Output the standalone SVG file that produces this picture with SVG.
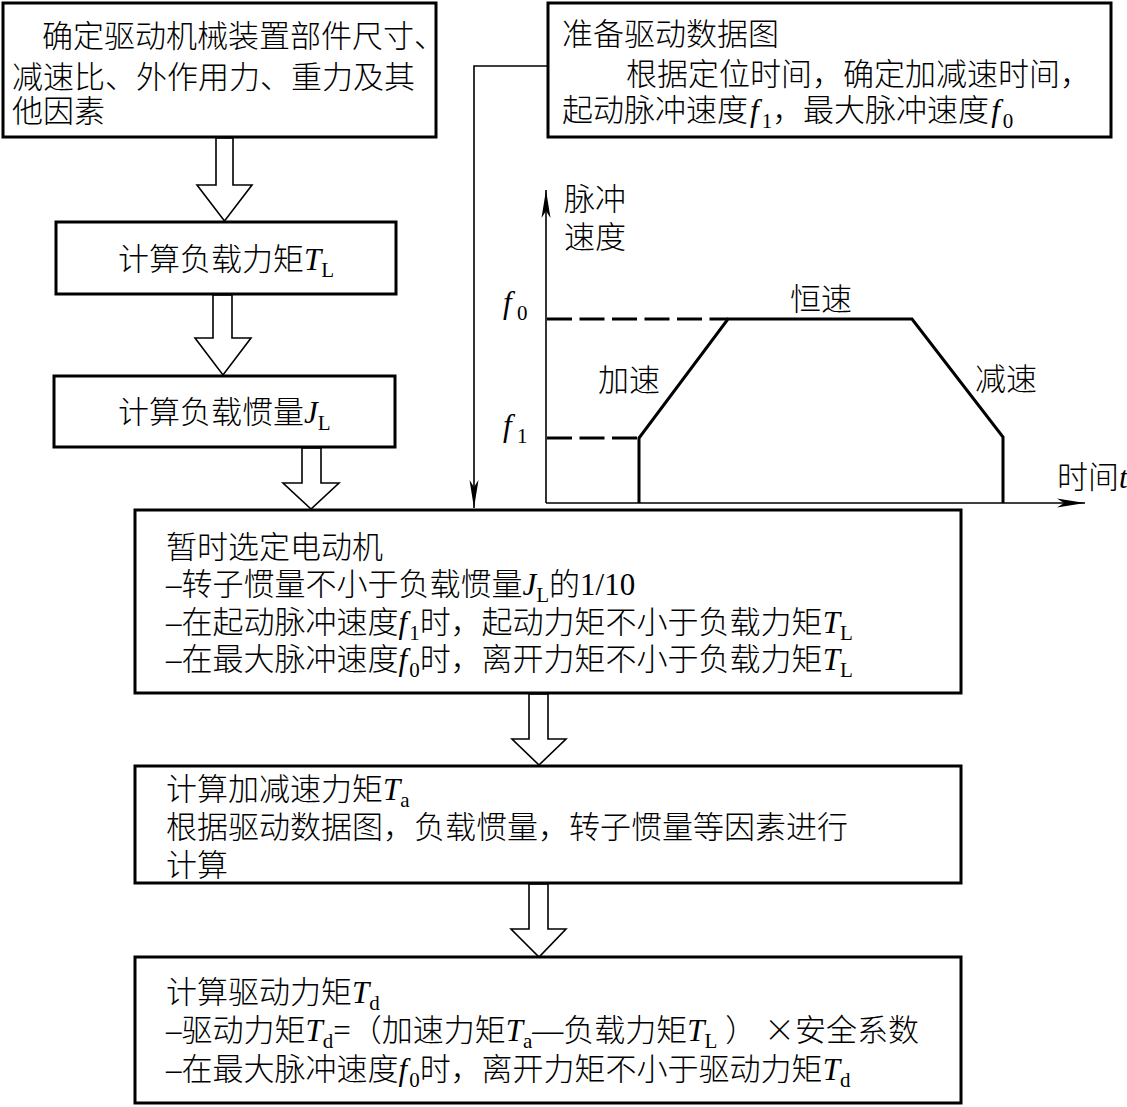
<svg xmlns="http://www.w3.org/2000/svg" width="1127" height="1107" viewBox="0 0 1127 1107">
<style>
.box{fill:#fff;stroke:#000;stroke-width:3}
.ha{fill:#fff;stroke:#000;stroke-width:1.6;stroke-linejoin:miter}
.ln{fill:none;stroke:#000;stroke-width:1.6}
.tk{fill:none;stroke:#000;stroke-width:3;stroke-linejoin:miter}
.ds{fill:none;stroke:#000;stroke-width:3;stroke-dasharray:25 7.5}
.t{font-family:"Liberation Serif","Noto Sans CJK SC",serif;font-size:31px;font-weight:300;fill:#000}
.i{font-style:italic;font-weight:normal}
.s{font-size:21px;font-style:normal;font-weight:normal}
.c{font-family:"Noto Sans CJK SC",sans-serif}
</style>
<defs>
<marker id="ah" markerUnits="userSpaceOnUse" markerWidth="30" markerHeight="10" viewBox="0 0 30 10" refX="28" refY="5" orient="auto">
<path d="M0,0.5 L28,5 L0,9.5 L7,5 Z" fill="#000"/>
</marker>
</defs>
<rect width="1127" height="1107" fill="#fff"/>

<g id="connectors">
<polygon class="ha" points="216,138 216,185 197,185 224.5,221 252,185 233,185 233,138"/>
<polygon class="ha" points="213,295 213,338 195,338 223,375 251,338 232,338 232,295"/>
<polygon class="ha" points="302,448 302,483 283,483 311,509 339,483 321,483 321,448"/>
<polygon class="ha" points="529,694 529,739 512,739 539,765 566,739 548,739 548,694"/>
<polygon class="ha" points="529,884 529,929 511,929 539,957 566,929 548,929 548,884"/>
<polyline class="ln" points="548,66 474,66 474,508" marker-end="url(#ah)"/>
</g>

<g id="n1">
<rect class="box" x="3" y="3" width="433" height="134"/>
<text class="t" x="42" y="47">确定驱动机械装置部件尺寸、</text>
<text class="t" x="12" y="88">减速比、外作用力、重力及其</text>
<text class="t" x="12" y="122">他因素</text>
</g>

<g id="n2">
<rect class="box" x="548" y="3" width="563" height="134"/>
<text class="t" x="562" y="45">准备驱动数据图</text>
<text class="t" x="626" y="85">根据定位时间，确定加减速时间，</text>
<text class="t" x="562" y="121">起动脉冲速度<tspan class="i" dx="2">f</tspan><tspan class="s" dx="3" dy="7">1</tspan><tspan dy="-7">，最大脉冲速度</tspan><tspan class="i" dx="2">f</tspan><tspan class="s" dx="3" dy="7">0</tspan></text>
</g>

<g id="n3">
<rect class="box" x="56" y="222" width="340" height="72"/>
<text class="t" x="118" y="270">计算负载力矩<tspan class="i">T</tspan><tspan class="s" dy="7">L</tspan></text>
</g>

<g id="n4">
<rect class="box" x="54" y="376" width="341" height="71"/>
<text class="t" x="118" y="423">计算负载惯量<tspan class="i">J</tspan><tspan class="s" dy="7">L</tspan></text>
</g>

<g id="chart">
<line class="ln" x1="546" y1="503" x2="546" y2="190" marker-end="url(#ah)"/>
<line class="ln" x1="546" y1="503" x2="1085" y2="503" marker-end="url(#ah)"/>
<line class="ds" x1="547" y1="319" x2="728" y2="319"/>
<line class="ds" x1="547" y1="438" x2="639" y2="438"/>
<polyline class="tk" points="639,503 639,438 728,319 912,319 1003,437 1003,503"/>
<text class="t" x="564" y="210">脉冲</text>
<text class="t" x="564" y="248">速度</text>
<text class="t" x="503" y="313" font-size="33"><tspan class="i">f</tspan><tspan class="s" x="517" dy="7">0</tspan></text>
<text class="t" x="503" y="436" font-size="33"><tspan class="i">f</tspan><tspan class="s" x="517" dy="7">1</tspan></text>
<text class="t" x="790" y="310">恒速</text>
<text class="t" x="598" y="391">加速</text>
<text class="t" x="975" y="390">减速</text>
<text class="t" x="1057" y="488">时间<tspan class="i">t</tspan></text>
</g>

<g id="n5">
<rect class="box" x="135" y="510" width="826" height="183"/>
<text class="t" x="166" y="558">暂时选定电动机</text>
<text class="t" x="166" y="595">–转子惯量不小于负载惯量<tspan class="i">J</tspan><tspan class="s" dy="7">L</tspan><tspan dy="-7">的1/10</tspan></text>
<text class="t" x="166" y="633">–在起动脉冲速度<tspan class="i">f</tspan><tspan class="s" dx="2" dy="7">1</tspan><tspan dy="-7">时，起动力矩不小于负载力矩</tspan><tspan class="i">T</tspan><tspan class="s" dy="7">L</tspan></text>
<text class="t" x="166" y="670">–在最大脉冲速度<tspan class="i">f</tspan><tspan class="s" dx="2" dy="7">0</tspan><tspan dy="-7">时，离开力矩不小于负载力矩</tspan><tspan class="i">T</tspan><tspan class="s" dy="7">L</tspan></text>
</g>

<g id="n6">
<rect class="box" x="135" y="766" width="826" height="117"/>
<text class="t" x="166" y="800">计算加减速力矩<tspan class="i">T</tspan><tspan class="s" dy="7">a</tspan></text>
<text class="t" x="166" y="838">根据驱动数据图，负载惯量，转子惯量等因素进行</text>
<text class="t" x="166" y="876">计算</text>
</g>

<g id="n7">
<rect class="box" x="135" y="957" width="826" height="146"/>
<text class="t" x="166" y="1003">计算驱动力矩<tspan class="i">T</tspan><tspan class="s" dy="7">d</tspan></text>
<text class="t" x="166" y="1041">–驱动力矩<tspan class="i">T</tspan><tspan class="s" dy="7">d</tspan><tspan dy="-7">=（加速力矩</tspan><tspan class="i">T</tspan><tspan class="s" dy="7">a</tspan><tspan dy="-7">—负载力矩</tspan><tspan class="i">T</tspan><tspan class="s" dy="7">L</tspan><tspan dy="-7"> ） </tspan><tspan class="c">×</tspan>安全系数</text>
<text class="t" x="166" y="1080">–在最大脉冲速度<tspan class="i">f</tspan><tspan class="s" dx="2" dy="7">0</tspan><tspan dy="-7">时，离开力矩不小于驱动力矩</tspan><tspan class="i">T</tspan><tspan class="s" dy="7">d</tspan></text>
</g>
</svg>
